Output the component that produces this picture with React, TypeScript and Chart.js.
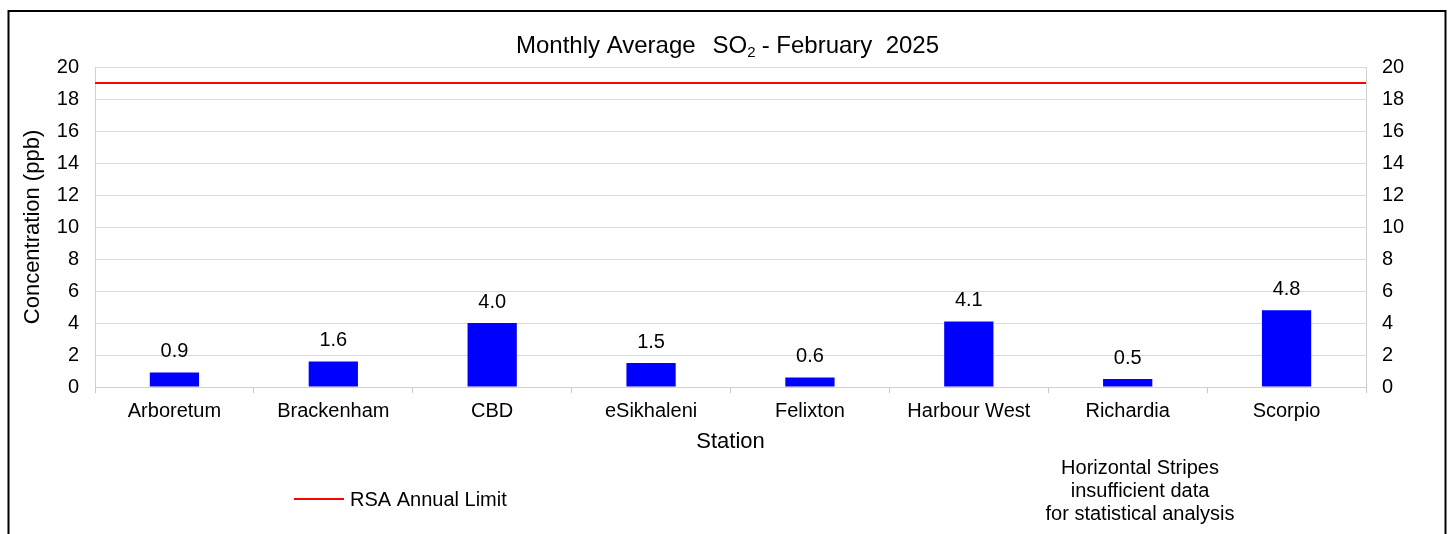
import React, { useEffect, useRef } from 'react';
import { Chart, registerables } from 'chart.js';

Chart.register(...registerables);

// ---- data ----
const stations = ['Arboretum', 'Brackenham', 'CBD', 'eSikhaleni', 'Felixton', 'Harbour West', 'Richardia', 'Scorpio'];
const so2Values = [0.9, 1.6, 4.0, 1.5, 0.6, 4.1, 0.5, 4.8];
const rsaAnnualLimit = 19;
const yMin = 0;
const yMax = 20;
const yStep = 2;
const titleParts = ['Monthly Average', 'SO', '2', '- February  2025'];
const xAxisTitle = 'Station';
const yAxisTitle = 'Concentration (ppb)';
const legendLabel = 'RSA Annual Limit';
const noteLines = ['Horizontal Stripes', 'insufficient data', 'for statistical analysis'];

const FONT = "'Liberation Sans', Arial, Helvetica, sans-serif";

export default function App() {
  const ref = useRef<HTMLCanvasElement | null>(null);

  useEffect(() => {
    document.body.style.margin = '0';
    const canvas = ref.current;
    if (!canvas) return;

    const limitLine = [
      { x: 0, y: rsaAnnualLimit },
      { x: stations.length, y: rsaAnnualLimit },
    ];

    const decor = {
      id: 'decor',
      beforeDraw(chart: any) {
        const ctx = chart.ctx;
        ctx.save();
        ctx.strokeStyle = '#000';
        ctx.lineWidth = 2;
        ctx.strokeRect(8.5, 11, 1437, 700);
        ctx.restore();
      },
      afterDraw(chart: any) {
        const ctx = chart.ctx;
        const area = chart.chartArea;
        ctx.save();
        ctx.fillStyle = '#000';
        ctx.textBaseline = 'alphabetic';
        // title
        const mainFont = `24px ${FONT}`;
        const subFont = `15px ${FONT}`;
        ctx.font = mainFont;
        const w1 = ctx.measureText(titleParts[0]).width;
        const w2 = ctx.measureText(titleParts[1]).width;
        const w4 = ctx.measureText(titleParts[3]).width;
        ctx.font = subFont;
        const w3 = ctx.measureText(titleParts[2]).width;
        const gapA = 17;
        const gapB = 6;
        const total = w1 + gapA + w2 + w3 + gapB + w4;
        const cx = (area.left + area.right) / 2 - 3;
        let x = cx - total / 2;
        const base = 53;
        ctx.textAlign = 'left';
        ctx.font = mainFont;
        ctx.fillText(titleParts[0], x, base);
        x += w1 + gapA;
        ctx.fillText(titleParts[1], x, base);
        x += w2;
        ctx.font = subFont;
        ctx.fillText(titleParts[2], x, base + 4);
        x += w3 + gapB;
        ctx.font = mainFont;
        ctx.fillText(titleParts[3], x, base);

        // legend
        ctx.strokeStyle = '#ff0000';
        ctx.lineWidth = 2;
        ctx.beginPath();
        ctx.moveTo(294, 499);
        ctx.lineTo(344, 499);
        ctx.stroke();
        ctx.font = `20px ${FONT}`;
        ctx.fillText(legendLabel, 350, 506);

        // note
        ctx.textAlign = 'center';
        noteLines.forEach((line, i) => {
          ctx.fillText(line, 1140, 473.5 + i * 23);
        });
        ctx.restore();
      },
    };

    const barLabels = {
      id: 'barLabels',
      afterDatasetsDraw(chart: any) {
        const ctx = chart.ctx;
        const meta = chart.getDatasetMeta(0);
        ctx.save();
        ctx.fillStyle = '#000';
        ctx.font = `20px ${FONT}`;
        ctx.textAlign = 'center';
        ctx.textBaseline = 'alphabetic';
        meta.data.forEach((el: any, i: number) => {
          ctx.fillText(so2Values[i].toFixed(1), el.x, el.y - 15.5);
        });
        ctx.restore();
      },
    };

    const tickFont = { family: FONT, size: 20 };

    const chart = new Chart(canvas, {
      type: 'bar',
      data: {
        labels: stations,
        datasets: [
          {
            type: 'bar',
            label: 'SO2',
            data: so2Values,
            backgroundColor: '#0000ff',
            borderWidth: 0,
            barPercentage: 0.31,
            categoryPercentage: 1,
            grouped: false,
            xAxisID: 'x',
            yAxisID: 'y',
            order: 2,
          } as any,
          {
            type: 'line',
            label: legendLabel,
            data: limitLine,
            xAxisID: 'x2',
            yAxisID: 'y',
            borderColor: '#ff0000',
            borderWidth: 2,
            pointRadius: 0,
            fill: false,
            order: 1,
          } as any,
        ],
      },
      options: {
        animation: false,
        responsive: false,
        layout: { padding: { top: 67, bottom: 79, left: 0, right: 0 } },
        plugins: {
          legend: { display: false },
          title: { display: false },
          tooltip: { enabled: false },
        },
        scales: {
          x: {
            type: 'category',
            position: 'bottom',
            offset: true,
            grid: {
              display: true,
              drawOnChartArea: false,
              drawTicks: true,
              tickLength: 6,
              color: '#c8c8c8',
              offset: true,
            },
            border: { display: true, color: '#d0d0d0' },
            ticks: {
              autoSkip: false,
              maxRotation: 0,
              minRotation: 0,
              padding: 6,
              color: '#000',
              font: tickFont,
            },
            title: {
              display: true,
              text: xAxisTitle,
              color: '#000',
              font: { family: FONT, size: 22 },
              padding: { top: 0, bottom: 0 },
            },
            afterFit: (s: any) => {
              s.height = 68;
            },
          },
          x2: {
            type: 'linear',
            display: false,
            offset: false,
            grid: { offset: false },
            min: 0,
            max: stations.length,
          },
          y: {
            position: 'left',
            min: yMin,
            max: yMax,
            ticks: { stepSize: yStep, padding: 16, color: '#000', font: tickFont },
            grid: { color: '#d9d9d9', drawTicks: false },
            border: { display: true, color: '#d0d0d0' },
            title: {
              display: true,
              text: yAxisTitle,
              color: '#000',
              font: { family: FONT, size: 22 },
              padding: { top: 20, bottom: 0 },
            },
            afterFit: (s: any) => {
              s.width = 95;
            },
          },
          y2: {
            position: 'right',
            min: yMin,
            max: yMax,
            ticks: { stepSize: yStep, padding: 16, color: '#000', font: tickFont },
            grid: { display: false, drawTicks: false },
            border: { display: true, color: '#d0d0d0' },
            afterFit: (s: any) => {
              s.width = 82;
            },
          },
        },
      } as any,
      plugins: [decor, barLabels],
    });

    return () => {
      chart.destroy();
    };
  }, []);

  return (
    <div style={{ width: 1448, height: 534 }}>
      <canvas ref={ref} width={1448} height={534} style={{ display: 'block' }} />
    </div>
  );
}
